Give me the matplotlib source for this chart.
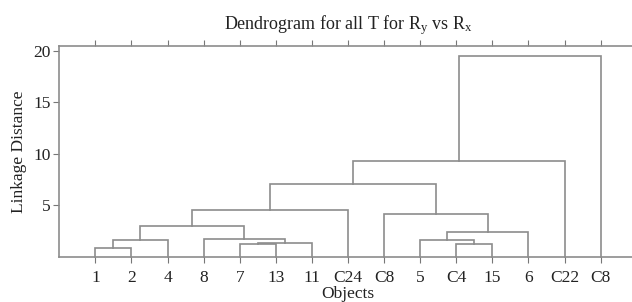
import numpy as np
import matplotlib
matplotlib.use('Agg')
from matplotlib import pyplot as plt

plt.rcParams['font.family'] = ['Liberation Serif', 'DejaVu Serif']
plt.rcParams['mathtext.fontset'] = 'custom'
plt.rcParams['mathtext.rm'] = 'Liberation Serif'
plt.rcParams['mathtext.it'] = 'Liberation Serif'

# leaves in display order
labels = ['1', '2', '4', '8', '7', '13', '11', 'C24', 'C8', '5', 'C4', '15', '6', 'C22', 'C8']

# merges: left child, right child, height (children >= 15 refer to earlier merges)
merge_left = [0, 15, 4, 17, 3, 16, 20, 10, 9, 23, 8, 21, 26, 27]
merge_right = [1, 2, 5, 6, 18, 19, 7, 11, 22, 12, 24, 25, 13, 14]
merge_height = [0.91, 1.62, 1.23, 1.33, 1.73, 3.05, 4.55, 1.27, 1.65, 2.47, 4.16, 7.1, 9.3, 19.5]

line_col = '#8c8c8c'
fs = 12.5

fig = plt.figure(figsize=(6.32, 3.02), dpi=100)
ax = fig.add_axes([0.0938, 0.149, 0.9136, 0.70])

n = len(labels)
xpos = list(np.arange(1, n + 1, dtype=float))
hpos = [0.0] * n
for a, b, h in zip(merge_left, merge_right, merge_height):
    xa, xb = xpos[a], xpos[b]
    ha, hb = hpos[a], hpos[b]
    ax.plot([xa, xa, xb, xb], [ha, h, h, hb], color=line_col, lw=1.2,
            solid_joinstyle='miter', clip_on=False)
    xpos.append((xa + xb) / 2)
    hpos.append(h)

ax.set_xlim(0, 16)
ax.set_ylim(0, 20.5)
ax.set_xticks(np.arange(1, n + 1))
ax.set_xticklabels(labels)
ax.set_yticks([5, 10, 15, 20])
ax.tick_params(axis='both', direction='out', length=4, color='#777777',
               labelsize=fs, pad=5, labelcolor='#222222')
ax.tick_params(axis='x', top=True, bottom=True)
ax.tick_params(axis='y', pad=2)
for s in ['left', 'top', 'bottom']:
    ax.spines[s].set_color(line_col)
    ax.spines[s].set_linewidth(1.2)
ax.spines['right'].set_visible(False)

ax.set_title('Dendrogram for all T for R$_\\mathrm{y}$ vs R$_\\mathrm{x}$', fontsize=13, pad=12,
             color='#222222')
ax.set_xlabel('Objects', fontsize=fs, labelpad=0, color='#222222')
ax.set_ylabel('Linkage Distance', fontsize=fs, labelpad=5, color='#222222')

fig.savefig('out.png', dpi=100)
